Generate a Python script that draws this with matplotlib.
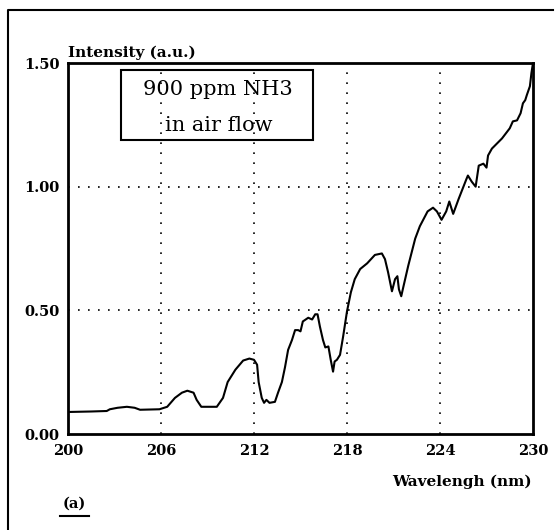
import matplotlib
matplotlib.use("Agg")
import matplotlib.pyplot as plt
from matplotlib.lines import Line2D
from matplotlib.patches import Rectangle

# spectrum
wavelength = [200.0, 201.5, 202.5, 202.7, 203.2, 203.8, 204.3, 204.65, 205.9,
              206.4, 206.9, 207.35, 207.7, 208.1, 208.3, 208.6, 209.6, 210.0,
              210.3, 210.8, 211.3, 211.7, 212.0, 212.2, 212.3, 212.5, 212.65,
              212.8, 213.0, 213.35, 213.55, 213.8, 214.0, 214.2, 214.45, 214.65,
              214.85, 215.0, 215.15, 215.5, 215.75, 215.95, 216.1, 216.25,
              216.45, 216.6, 216.8, 216.95, 217.1, 217.2, 217.35, 217.55,
              217.75, 218.0, 218.25, 218.5, 218.85, 219.3, 219.8, 220.25,
              220.45, 220.65, 220.9, 221.1, 221.25, 221.35, 221.5, 221.6,
              221.95, 222.4, 222.7, 223.2, 223.55, 223.8, 224.1, 224.4, 224.6,
              224.85, 225.2, 225.7, 225.8, 226.05, 226.3, 226.5, 226.8, 227.0,
              227.1, 227.35, 228.0, 228.5, 228.7, 228.97, 229.2, 229.35, 229.5,
              229.6, 229.8, 229.9, 230.0]
intensity = [0.089, 0.091, 0.093, 0.100, 0.106, 0.110, 0.106, 0.098, 0.100,
             0.110, 0.146, 0.167, 0.175, 0.167, 0.138, 0.110, 0.110, 0.146,
             0.210, 0.260, 0.297, 0.305, 0.300, 0.280, 0.210, 0.146, 0.126,
             0.138, 0.126, 0.130, 0.167, 0.210, 0.270, 0.340, 0.380, 0.420,
             0.420, 0.415, 0.455, 0.470, 0.463, 0.484, 0.484, 0.435, 0.380,
             0.350, 0.354, 0.300, 0.252, 0.293, 0.300, 0.320, 0.394, 0.496,
             0.573, 0.626, 0.667, 0.690, 0.724, 0.730, 0.707, 0.654, 0.577,
             0.626, 0.638, 0.585, 0.557, 0.585, 0.680, 0.790, 0.840, 0.900,
             0.915, 0.900, 0.866, 0.900, 0.940, 0.890, 0.950, 1.030, 1.045,
             1.020, 1.000, 1.085, 1.093, 1.077, 1.126, 1.154, 1.195, 1.236,
             1.264, 1.268, 1.297, 1.337, 1.350, 1.370, 1.406, 1.460, 1.500]

x_ticks = [200, 206, 212, 218, 224, 230]
y_ticks = [0.0, 0.5, 1.0, 1.5]
y_labels = ["0.00", "0.50", "1.00", "1.50"]

serif = ["DejaVu Serif"]

fig = plt.figure(figsize=(5.55, 5.30), dpi=100)
ax = fig.add_axes([68 / 555, 96 / 530, 465 / 555, 371 / 530])

ax.plot(wavelength, intensity, color="black", lw=1.5)

ax.set_xlim(200, 230)
ax.set_ylim(0, 1.5)
ax.set_xticks(x_ticks)
ax.set_yticks(y_ticks)
ax.set_xticklabels([str(t) for t in x_ticks], family=serif, fontweight="bold", fontsize=10.5)
ax.set_yticklabels(y_labels, family=serif, fontweight="bold", fontsize=10.5)
ax.tick_params(axis="x", length=0, pad=7)
ax.tick_params(axis="y", length=0, pad=6)

# dotted grid, inner lines only
for gx in x_ticks[1:-1]:
    ax.axvline(gx, color="black", lw=1.2, ls=(0, (1, 5)))
for gy in y_ticks[1:-1]:
    ax.axhline(gy, color="black", lw=1.2, ls=(0, (1, 5)))

for sp in ax.spines.values():
    sp.set_linewidth(2.0)

ax.text(0.0, 1.008, "Intensity (a.u.)", transform=ax.transAxes, family=serif,
        fontweight="bold", fontsize=11, ha="left", va="bottom")
fig.text(532 / 555, 1 - 482 / 530, "Wavelengh (nm)", family=serif,
         fontweight="bold", fontsize=11, ha="right", va="center")

# label box (grid shows through it)
ax.add_patch(Rectangle((0.114, 0.792), 0.413, 0.189, transform=ax.transAxes,
                       fc="none", ec="black", lw=1.5, zorder=3))
ax.text(0.3215, 0.914, "900 ppm NH3", transform=ax.transAxes, family=serif,
        fontsize=15, ha="center", va="baseline", zorder=4)
ax.text(0.325, 0.817, "in air flow", transform=ax.transAxes, family=serif,
        fontsize=15, ha="center", va="baseline", zorder=4)

fig.text(74 / 555, 1 - 504 / 530, "(a)", family=serif, fontweight="bold",
         fontsize=10.5, ha="center", va="center")
fig.add_artist(Line2D([60 / 555, 89 / 555], [1 - 516 / 530] * 2,
                      transform=fig.transFigure, color="black", lw=1.5))

# outer frame around the panel
fig.add_artist(Line2D([8 / 555, 8 / 555, 553 / 555], [0, 1 - 10 / 530, 1 - 10 / 530],
                      transform=fig.transFigure, color="black", lw=1.5))

fig.savefig("out.png", dpi=100)
